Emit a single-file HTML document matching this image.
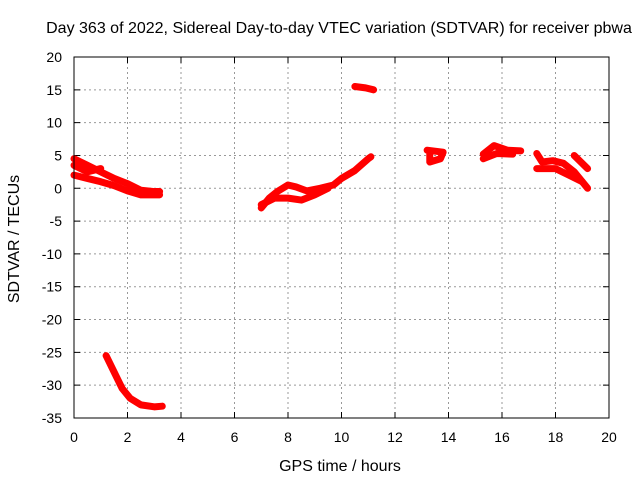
<!DOCTYPE html>
<html><head><meta charset="utf-8"><style>
body{margin:0;background:#fff;}
svg text{font-family:"Liberation Sans",sans-serif;font-size:14px;fill:#000;}
svg text.big{font-size:16px;}
</style></head><body>
<svg id="chart" width="640" height="480">
<text class="big" x="339" y="33" text-anchor="middle">Day 363 of 2022, Sidereal Day-to-day VTEC variation (SDTVAR) for receiver pbwa</text>
<text class="big" x="340" y="471" text-anchor="middle">GPS time / hours</text>
<text class="big" x="19" y="239" text-anchor="middle" transform="rotate(-90 19 239)">SDTVAR / TECUs</text>
<g id="grid"></g>
<g id="series"></g>
<rect x="74" y="57" width="535" height="361" fill="none" stroke="#000"/>
</svg>
<script>
const xTicks=[0,2,4,6,8,10,12,14,16,18,20];
const yTicks=[20,15,10,5,0,-5,-10,-15,-20,-25,-30,-35];
const seg1=[[0,4.5],[0.5,3.5],[1,2.5],[1.5,1.5],[2,0.7],[2.5,-0.3],[3,-0.5],[3.2,-0.5]];
const seg2=[[0,2],[0.5,1.5],[1,1],[1.5,0.4],[2,-0.4],[2.5,-1],[3,-1],[3.2,-1]];
const seg3=[[0,3.5],[0.5,2.5],[1,3]];
const seg4=[[1.2,-25.5],[1.5,-28],[1.8,-30.5],[2.1,-32],[2.5,-33],[3,-33.3],[3.3,-33.2]];
const seg5=[[7,-3],[7.3,-1.5],[7.6,-0.5],[8,0.5],[8.3,0.2],[8.7,-0.4],[9.2,0],[9.7,0.5],[10,1.5],[10.5,2.7],[11,4.5],[11.1,4.8]];
const seg6=[[7,-2.5],[7.5,-1.5],[8,-1.5],[8.5,-1.8],[9,-1],[9.5,0]];
const seg7=[[10.5,15.5],[10.9,15.3],[11.2,15]];
const seg8=[[13.2,5.8],[13.8,5.5],[13.7,4.5],[13.3,4],[13.3,5.5]];
const seg9=[[15.3,5.2],[15.7,6.5],[16.2,5.8],[16.7,5.7]];
const seg10=[[15.3,4.5],[15.8,5.3],[16.4,5.2]];
const seg11=[[17.3,5.3],[17.5,4],[17.9,4.2],[18.3,3.8],[18.7,2.5],[19.2,0]];
const seg12=[[17.3,3],[18,3],[18.5,2],[19,1]];
const seg13=[[18.7,5],[19.2,3]];
const segments=[seg1,seg2,seg3,seg4,seg5,seg6,seg7,seg8,seg9,seg10,seg11,seg12,seg13];
const X=v=>74+(v-0)/20*535;
const Y=v=>57+(20-v)/55*361;
const NS='http://www.w3.org/2000/svg';
const svg=document.getElementById('chart');
const grid=document.getElementById('grid');
xTicks.forEach(t=>{
 const x=X(t);
 if(t>0&&t<20){const l=document.createElementNS(NS,'line');
 l.setAttribute('x1',x);l.setAttribute('x2',x);l.setAttribute('y1',57);l.setAttribute('y2',418);
 l.setAttribute('stroke','#999');l.setAttribute('stroke-dasharray','2,3');
 
 grid.appendChild(l);}
 const tk=document.createElementNS(NS,'path');
 tk.setAttribute('d',`M${x},418v-6M${x},57v6`);tk.setAttribute('stroke','#000');
 
 grid.appendChild(tk);
 const tx=document.createElementNS(NS,'text');
 tx.setAttribute('x',x);tx.setAttribute('y',442);tx.setAttribute('text-anchor','middle');tx.textContent=t;
 
 svg.appendChild(tx);
});
yTicks.forEach(t=>{
 const y=Y(t);
 if(t<20&&t>-35){const l=document.createElementNS(NS,'line');
 l.setAttribute('x1',74);l.setAttribute('x2',609);l.setAttribute('y1',y);l.setAttribute('y2',y);
 l.setAttribute('stroke','#999');l.setAttribute('stroke-dasharray','2,3');
 
 grid.appendChild(l);}
 const tk=document.createElementNS(NS,'path');
 tk.setAttribute('d',`M74,${y}h6M609,${y}h-6`);tk.setAttribute('stroke','#000');
 
 grid.appendChild(tk);
 const tx=document.createElementNS(NS,'text');
 tx.setAttribute('x',62);tx.setAttribute('y',y+5);tx.setAttribute('text-anchor','end');tx.textContent=t;
 
 svg.appendChild(tx);
});
const ser=document.getElementById('series');
segments.forEach(s=>{
 const p=document.createElementNS(NS,'polyline');
 p.setAttribute('points',s.map(d=>X(d[0])+','+Y(d[1])).join(' '));
 p.setAttribute('fill','none');p.setAttribute('stroke','#f00');p.setAttribute('stroke-width','7');
 p.setAttribute('stroke-linejoin','round');p.setAttribute('stroke-linecap','round');
 
 ser.appendChild(p);
});
</script>
</body></html>
